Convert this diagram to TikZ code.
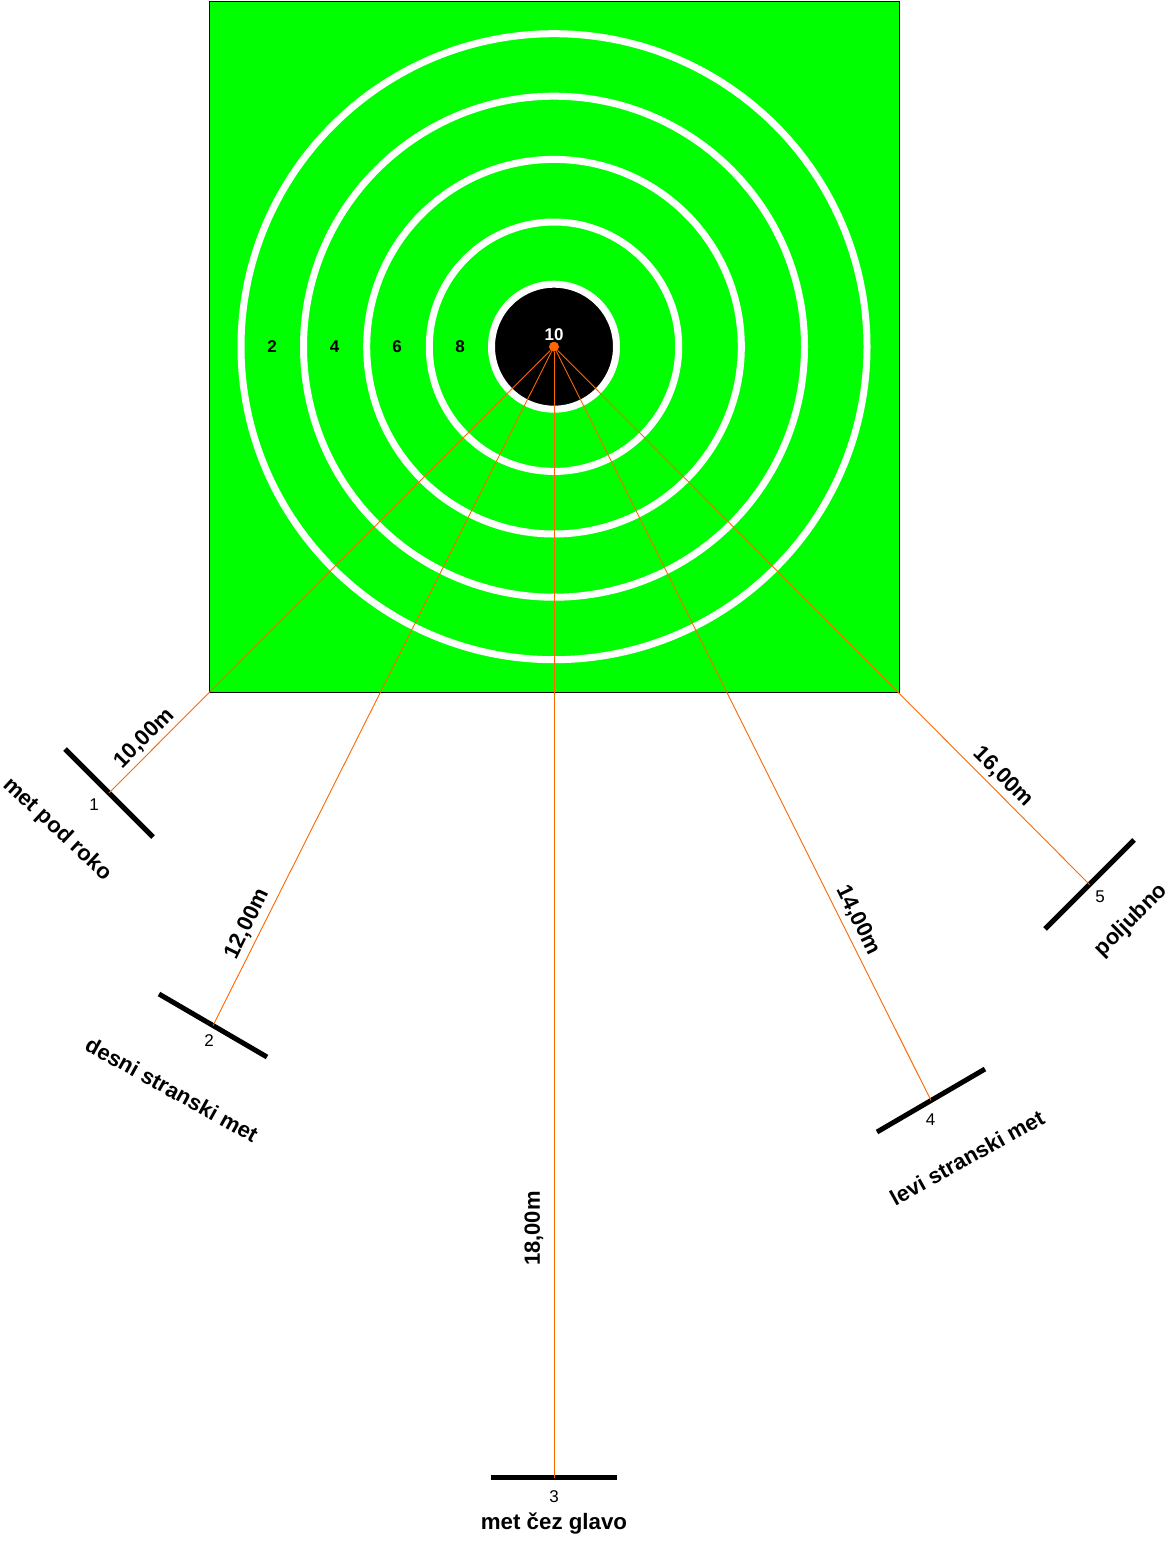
\documentclass[tikz,border=0pt]{standalone}
\usepackage{fontspec}
\setmainfont{Liberation Sans}

\definecolor{fieldgreen}{RGB}{0,255,0}
\definecolor{lineorange}{RGB}{255,102,0}

\begin{document}
\begin{tikzpicture}[
  x=1pt, y=-1pt,
  ring/.style={draw=white, line width=7pt, circle, inner sep=0pt, outer sep=0pt},
  shot/.style={draw=lineorange, line width=0.9pt},
  bar/.style={draw=black, line width=5pt},
  hitdot/.style={circle, fill=lineorange, minimum size=10pt, inner sep=0pt},
  score/.style={font=\fontsize{17}{19}\selectfont\bfseries, inner sep=0pt},
  num/.style={font=\fontsize{17}{19}\selectfont, inner sep=0pt},
  dist/.style={font=\fontsize{22}{24}\selectfont\bfseries, inner sep=0pt},
  place/.style={font=\fontsize{22}{24}\selectfont\bfseries, inner sep=0pt}]
\useasboundingbox (0,0) rectangle (1168,1544);
% green field with the scoring rings
\node[draw=black, line width=1pt, fill=fieldgreen, minimum width=690pt, minimum height=691pt, inner sep=0pt] (field) at (554,346.7) {};
\foreach \rad/\nam in {313/a,250.5/b,187.3/c,124.7/d} {
  \node[ring, minimum size=2*\rad pt] (ring\nam) at (554,346.7) {};
}
\node[ring, fill=black, minimum size=125pt] (bull) at (554,346.7) {};
\node[hitdot] (hit) at (554,346.7) {};
% throwing positions
\coordinate (stand1) at (109,793);
\coordinate (stand2) at (213,1025.5);
\coordinate (stand3) at (554,1477.7);
\coordinate (stand4) at (931,1100.5);
\coordinate (stand5) at (1089.5,884.5);
\draw[bar] (65,749) -- (stand1) -- (153,837);
\draw[bar] (159,994) -- (stand2) -- (267,1057);
\draw[bar] (491,1477.7) -- (stand3) -- (617,1477.7);
\draw[bar] (877,1132) -- (stand4) -- (985,1069);
\draw[bar] (1045,929) -- (stand5) -- (1134,840);
\draw[shot] (hit) -- (stand1);
\draw[shot] (hit) -- (stand2);
\draw[shot] (hit) -- (stand3);
\draw[shot] (hit) -- (stand4);
\draw[shot] (hit) -- (stand5);
% ring values
\node[score] (val2) at (272,346.5) {2};
\node[score] (val4) at (334.5,346.5) {4};
\node[score] (val6) at (397,346.5) {6};
\node[score] (val8) at (460,346.5) {8};
\node[score, text=white] (val10) at (554,334.5) {10};
% distances
\node[dist, rotate=45] (dist1) at (144.5,738.5) {10,00m};
\node[dist, rotate=64] (dist2) at (247.5,924) {12,00m};
\node[dist, rotate=90] (dist3) at (534,1228.5) {18,00m};
\node[dist, rotate=-64] (dist4) at (858,920) {14,00m};
\node[dist, rotate=-45] (dist5) at (1003,777) {16,00m};
% position numbers and names
\node[num] (num1) at (94,804.5) {1};
\node[num] (num2) at (209,1040.5) {2};
\node[num] (num3) at (554,1496.5) {3};
\node[num] (num4) at (930.5,1119.5) {4};
\node[num] (num5) at (1100,896.5) {5};
\node[place, rotate=-43] (place1) at (57.5,829.5) {met pod roko};
\node[place, rotate=-29] (place2) at (172,1089.5) {desni stranski met};
\node[place, font=\fontsize{22.3}{24}\selectfont\bfseries] (place3) at (554,1523.5) {met čez glavo};
\node[place, rotate=29] (place4) at (967,1157.5) {levi stranski met};
\node[place, rotate=45] (place5) at (1131.5,920.5) {poljubno};
\end{tikzpicture}
\end{document}
